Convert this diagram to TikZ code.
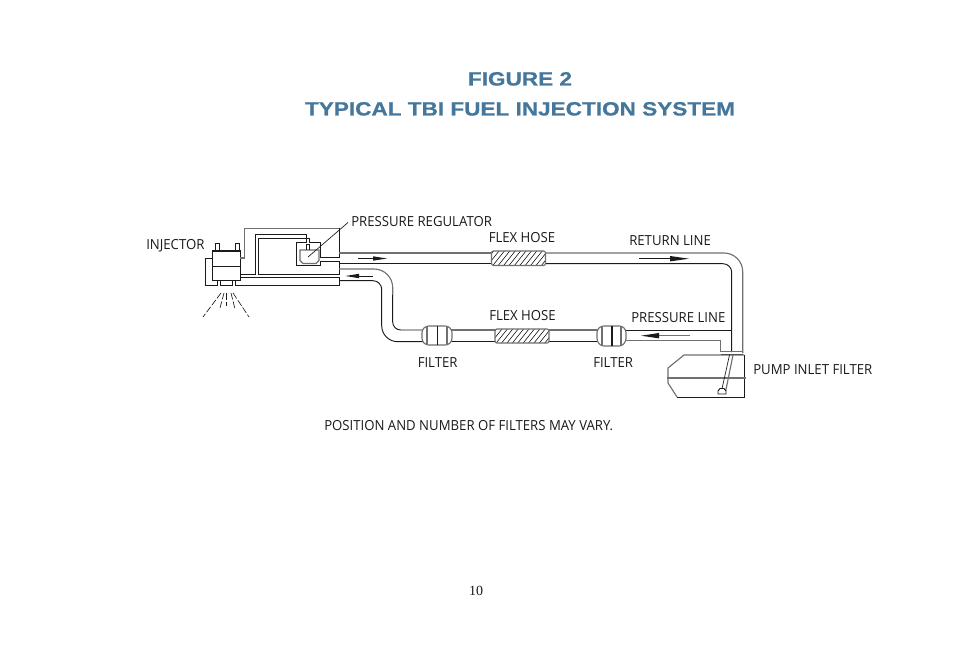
\documentclass[tikz,border=0pt]{standalone}
\usepackage{fontspec}
\setmainfont[FakeStretch=0.95]{Open Sans}
\newfontfamily\titlefont[UprightFont=* Bold,FakeStretch=1.175,FakeBold=0.7]{Liberation Sans}
\newfontfamily\pagefont{Liberation Serif}
\definecolor{titleblue}{HTML}{44779B}
\definecolor{ink}{HTML}{1A1A1A}
\definecolor{pipegray}{HTML}{707070}
\tikzset{
  x=0.75pt,y=-0.75pt,
  wire/.style={draw=ink,line width=0.7pt,line join=miter},
  softwire/.style={draw=pipegray,line width=0.85pt},
  thin wire/.style={draw=ink,line width=0.5pt},
  lab/.style={font=\fontsize{10.4pt}{12pt}\selectfont,text=ink,inner sep=0pt,anchor=base west},
  ttl/.style={font=\titlefont\fontsize{14.4pt}{16pt}\selectfont,text=titleblue,inner sep=0pt,anchor=base},
  hatch/.style={draw=ink,line width=0.45pt},
  head/.style={fill=ink,draw=none},
}
\begin{document}
\begin{tikzpicture}
\useasboundingbox (0,0) rectangle (954,656);
\fill[white] (0,0) rectangle (954,656);
% titles
\node[ttl] (t1) at (520,85.5) {FIGURE 2};
\node[ttl] (t2) at (520,115.5) {TYPICAL TBI FUEL INJECTION SYSTEM};
% injector
\draw[wire] (212,250) rectangle (240,280);
\draw[line width=1.3pt,ink] (212,251) -- (240,251);
\draw[thin wire] (212,266) -- (240,266);
\draw[thin wire] (215.5,250) -- (215.5,243.5) -- (219,243.5) -- (219,250);
\draw[thin wire] (235.5,250) -- (235.5,243.5) -- (239,243.5) -- (239,250);
\draw[wire] (212,258) -- (205.5,258) -- (205.5,285) -- (217,285) -- (217,280);
\draw[wire] (220,281) -- (220,285) -- (232.5,285) -- (232.5,281);
\draw[wire] (235.5,280) -- (235.5,285) -- (339,285) -- (339,277) -- (240,277);
% upper manifold
\draw[softwire] (240,258) -- (244.5,258) -- (244.5,228.5) -- (339,228.5);
\draw[wire] (339,228.5) -- (339,257) -- (320.5,257) -- (320.5,242) -- (309,242) -- (309,238) -- (258,238) -- (258,274.5) -- (339,274.5) -- (339,261) -- (320.5,261) -- (320.5,265) -- (296.5,265) -- (296.5,242) -- (306.5,242) -- (306.5,234.5) -- (255.5,234.5) -- (255.5,274.5) -- (240,274.5);
% regulator
\draw[softwire] (300,250) -- (319,250) -- (319,260.5) -- (316,263.5) -- (303,263.5) -- (300,260.5) -- cycle;
\draw[thin wire] (306.5,250) -- (306.5,244.5) -- (309.5,244.5) -- (309.5,250);
\coordinate (regtip) at (308,257);
% return line
\draw[softwire] (339,253) -- (491.5,253);
\draw[softwire,rounded corners=14pt] (545.5,253) -- (742.7,253) -- (742.7,353);
\draw[wire] (339,263.7) -- (491.5,263.7);
\draw[wire,rounded corners=6.5pt] (545.5,263.7) -- (731.7,263.7) -- (731.7,352);
% pressure line upstream bend
\draw[softwire,rounded corners=14pt] (339,269) -- (392.7,269) -- (392.7,295);
\draw[wire,rounded corners=6pt] (392.7,295) -- (392.7,330) -- (423,330);
\draw[wire,rounded corners=6.5pt] (339,280.7) -- (381.7,280.7) -- (381.7,296);
\draw[wire,rounded corners=12pt] (381.7,296) -- (381.7,341.7) -- (423,341.7);
% pipe sections
\draw[softwire] (451,330) -- (495,330);
\draw[wire] (451,341.7) -- (495,341.7);
\draw[softwire] (549,330) -- (598,330);
\draw[wire] (549,341.7) -- (598,341.7);
\draw[wire] (625,330) -- (731.7,330);
\draw[softwire] (625,340.7) -- (720.7,340.7) -- (720.7,352);
% filters
\draw[softwire,fill=white,rounded corners=2pt] (422,330) -- (426,326) -- (448,326) -- (452,330) -- (452,341) -- (448,345) -- (426,345) -- (422,341) -- cycle;
\draw[softwire] (427,326) -- (427,345) (447,326) -- (447,345);
\draw[wire] (437,326) -- (437,345);
\draw[softwire,fill=white,rounded corners=2pt] (597,330) -- (601,326) -- (622,326) -- (626,330) -- (626,341) -- (622,346) -- (601,346) -- (597,341) -- cycle;
\draw[softwire] (602,326) -- (602,346) (621,326) -- (621,346);
\draw[ink,line width=1.3pt] (612,326) -- (612,346);
% flex hoses
\begin{scope}
\clip[rounded corners=1.5pt] (491.5,251) rectangle (545.5,265.5);
\foreach \k in {0,...,14} \draw[hatch] (480+\k*5.4,268) -- (496+\k*5.4,248);
\end{scope}
\draw[softwire,rounded corners=1.5pt] (491.5,251) rectangle (545.5,265.5);
\begin{scope}
\clip[rounded corners=1.5pt] (495,329) rectangle (549,343);
\foreach \k in {0,...,14} \draw[hatch] (483+\k*5.4,346) -- (499+\k*5.4,326);
\end{scope}
\draw[softwire,rounded corners=1.5pt] (495,329) rectangle (549,343);
% arrows
\draw[thin wire] (358,258.5) -- (375,258.5);
\fill[head] (387,258.5) -- (373,256.3) -- (373,260.7) -- cycle;
\draw[thin wire] (639,258.7) -- (672,258.7);
\fill[head] (689,258.7) -- (670,256) -- (670,261.4) -- cycle;
\draw[thin wire] (373,276) -- (357,276);
\fill[head] (345.5,276) -- (359,273.8) -- (359,278.2) -- cycle;
\draw[softwire] (690,335.7) -- (656,335.7);
\fill[head] (641,335.7) -- (659,333) -- (659,338.4) -- cycle;
% pump inlet filter
\draw[softwire] (721,351.7) -- (743,351.7);
\draw[wire] (721,354) -- (743,354);
\draw[wire] (744,355) -- (744,397) -- (677,397);
\draw[softwire] (744,355) -- (684,355) -- (668,368) -- (668,383) -- (677,397);
\draw[softwire,line width=1.4pt] (667,378) -- (746,378);
\draw[softwire] (733,355) -- (725.5,392);
\draw[thin wire] (729.5,355) -- (721.5,391);
\draw[wire,fill=white] (718,394) -- (718,391) -- (720,388.5) -- (724,388.5) -- (726,391) -- (726,394) -- cycle;
% spray
\draw[thin wire,dash pattern=on 5pt off 1.5pt] (221,293) -- (203,317);
\draw[thin wire,dash pattern=on 5pt off 1.5pt] (224,293) -- (220,308);
\draw[thin wire,dash pattern=on 5pt off 1.5pt] (226,293) -- (226,306);
\draw[thin wire,dash pattern=on 5pt off 1.5pt] (231,293) -- (235,309);
\draw[thin wire,dash pattern=on 5pt off 1.5pt] (233,293) -- (249,317);
% labels
\node[lab] (injector) at (146,250) {INJECTOR};
\node[lab] (reg) at (351,227) {PRESSURE REGULATOR};
\node[lab] (fh1) at (488.5,242.5) {FLEX HOSE};
\node[lab] (ret) at (629,245.5) {RETURN LINE};
\node[lab] (fh2) at (489,320.5) {FLEX HOSE};
\node[lab] (pre) at (631,322) {PRESSURE LINE};
\node[lab] (f1) at (417.5,367) {FILTER};
\node[lab] (f2) at (593,367) {FILTER};
\node[lab] (pif) at (753,374) {PUMP INLET FILTER};
\node[lab] (note) at (324,430) {POSITION AND NUMBER OF FILTERS MAY VARY.};
\node[inner sep=0pt,anchor=base,text=ink,font=\pagefont\fontsize{10.5pt}{12pt}\selectfont] (pg) at (476,595.5) {10};
\draw[thin wire] (regtip) -- (348,222.5);
\end{tikzpicture}
\end{document}
